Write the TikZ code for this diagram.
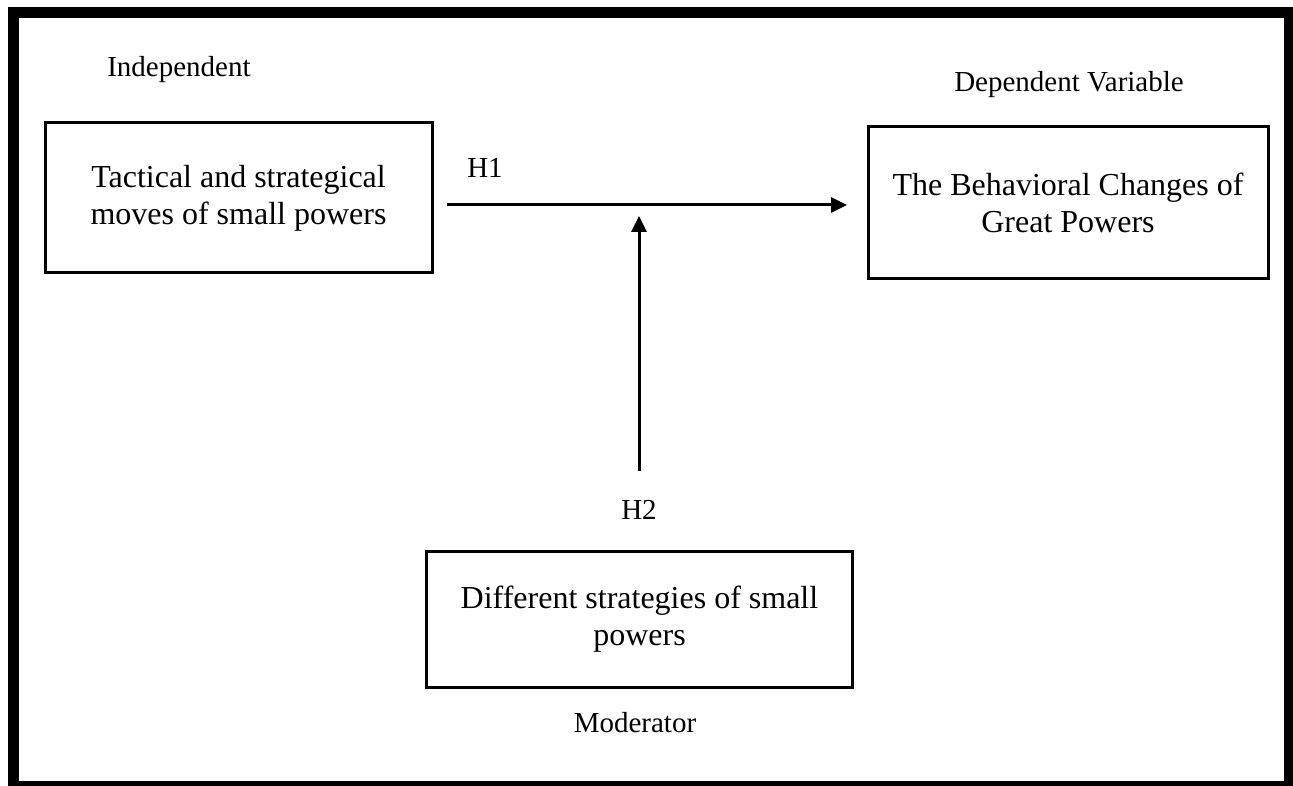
\documentclass[tikz,border=0pt]{standalone}
\usepackage{fontspec}
\setmainfont{Liberation Serif}
\usetikzlibrary{arrows.meta}
\begin{document}
\begin{tikzpicture}[x=1pt,y=-1pt,
  varbox/.style={draw=black,line width=3pt,rectangle,inner sep=0pt,align=center,
    font=\fontsize{32}{37}\selectfont},
  lbl/.style={anchor=base,inner sep=0pt,font=\fontsize{29}{34}\selectfont},
  arr/.style={line width=3pt,-{Triangle[length=16pt,width=15pt]}}]
\useasboundingbox (0,0) rectangle (1293,786);
% outer frame
\fill[black] (8,7) rectangle (1293,786);
\fill[white] (19,18) rectangle (1284,781);
% boxes
\node[varbox,minimum width=387pt,minimum height=150pt] (L) at (238.5,198)
  {Tactical and strategical\\moves of small powers};
\node[varbox,minimum width=400pt,minimum height=152pt] (R) at (1068,203)
  {The Behavioral Changes of\\Great Powers};
\node[varbox,minimum width=426pt,minimum height=136pt] (M) at (639.5,619)
  {Different strategies of small\\powers};
% labels
\node[lbl] (li) at (179,77) {Independent};
\node[lbl] (ld) at (1069,92) {Dependent Variable};
\node[lbl] (lm) at (635,732) {Moderator};
\node[lbl] (h1) at (485,178) {H1};
\node[lbl] (h2) at (639,519) {H2};
% connectors
\coordinate (h1s) at (447,205);
\coordinate (h1e) at (847,205);
\coordinate (ms) at (639,471);
\coordinate (me) at (639,216);
\draw[arr] (h1s) -- (h1e);
\draw[arr] (ms) -- (me);
\end{tikzpicture}
\end{document}
